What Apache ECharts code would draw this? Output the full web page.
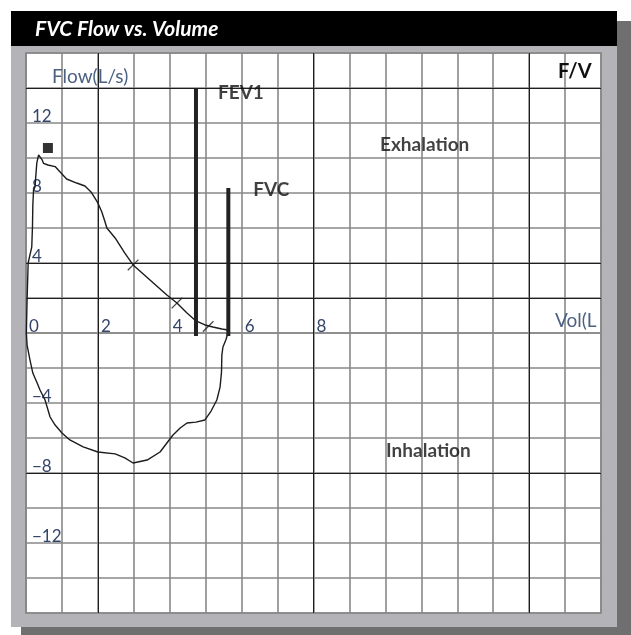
<!DOCTYPE html>
<html><head><meta charset="utf-8">
<script src="https://cdn.jsdelivr.net/npm/echarts@6/dist/echarts.min.js"></script>
<style>html,body{margin:0;padding:0;background:#fff}#c{width:631px;height:635px}</style>
</head><body><div id="c"></div>
<script>
// ---- data ----
const exhaleVol  = [0.01,0.03,0.06,0.11,0.16,0.18,0.19,0.21,0.25,0.30,0.35,0.40,0.45,0.49,0.61,0.81,0.95,1.13,1.41,1.64,1.81,2.00,2.11,2.20,2.25,2.48,2.75,2.98,3.45,3.92,4.20,4.48,4.73,4.98,5.20,5.45,5.62];
const exhaleFlow = [0,1.89,4.0,4.46,4.91,6.06,7.31,8.17,8.34,9.71,10.17,10.11,9.89,9.69,9.6,9.51,9.2,8.8,8.57,8.4,8.06,7.43,6.91,6.34,6.0,5.43,4.57,3.89,3.03,2.17,1.71,1.14,0.69,0.46,0.34,0.23,0.17];
const inhaleVol  = [5.62,5.56,5.48,5.45,5.44,5.40,5.31,5.15,4.98,4.73,4.48,4.29,4.09,3.73,3.37,2.98,2.75,2.48,2.00,1.59,1.22,1.00,0.81,0.67,0.53,0.39,0.31,0.19,0.11,0.03,0.01];
const inhaleFlow = [0,-0.4,-0.8,-1.26,-2.23,-3.09,-3.83,-4.46,-4.97,-5.09,-5.14,-5.43,-5.83,-6.8,-7.26,-7.43,-7.14,-6.91,-6.8,-6.51,-6.11,-5.71,-5.26,-4.8,-3.83,-3.26,-2.86,-2.29,-1.54,-0.69,0];
const tickVol  = [2.98, 4.20, 5.07];
const tickFlow = [3.89, 1.71, 0.37];
const pefVol = [0.61];
const pefFlow = [10.57];
const fev1Vol = 4.73;
const fev1Range = [-0.17, 14];
const fvcVol = 5.63;
const fvcRange = [-0.17, 8.29];
const xTickLabels = [0, 2, 4, 6, 8];
const yTickLabels = [12, 8, 4, -4, -8, -12];
const annotationText = ['Exhalation', 'Inhalation'];
const annotationVol  = [9.85, 10.02];
const annotationFlow = [10.77, -6.74];

// ---- chart ----
const chart = echarts.init(document.getElementById('c'));
const curve = exhaleVol.map((v, i) => [v, exhaleFlow[i]])
  .concat(inhaleVol.map((v, i) => [v, inhaleFlow[i]]));
const gridGray = '#888888';
const labelBlue = '#35456a';
const FONT = 'Lato';
const X_MIN = 0, X_MAX = 16, Y_MIN = -16, Y_MAX = 16;
const GRID = { left: 26, top: 53, width: 575, height: 560 };
// place the volume axis on flow = 0
const xAxisOffset = -GRID.height * (0 - Y_MIN) / (Y_MAX - Y_MIN);

chart.setOption({
  animation: false,
  backgroundColor: '#fff',
  graphic: [
    { type: 'rect', z: -10, shape: { x: 21, y: 21, width: 610, height: 614 }, style: { fill: '#6f6f6f' } },
    { type: 'rect', z: -9, shape: { x: 11, y: 11, width: 606, height: 616 }, style: { fill: '#b4b4b8' } },
    { type: 'rect', z: -8, shape: { x: 11, y: 11, width: 606, height: 35 }, style: { fill: '#000' } },
    { type: 'text', z: -7, x: 35, y: 29, style: { text: 'FVC Flow vs. Volume', fill: '#fff', font: 'italic bold 21px ' + FONT, align: 'left', verticalAlign: 'middle' } },
    { type: 'text', z: 50, x: 52, y: 77, style: { text: 'Flow(L/s)', fill: '#4d6282', font: '19px ' + FONT, align: 'left', verticalAlign: 'middle' } },
    { type: 'text', z: 50, x: 558, y: 72, style: { text: 'F/V', fill: '#111', font: 'bold 20px ' + FONT, align: 'left', verticalAlign: 'middle' } },
    { type: 'text', z: 50, x: 555, y: 321, style: { text: 'Vol(L', fill: '#4d6282', font: '19px ' + FONT, align: 'left', verticalAlign: 'middle' } }
  ],
  grid: Object.assign({ show: true, backgroundColor: '#fff', borderColor: gridGray, borderWidth: 1.6 }, GRID),
  xAxis: {
    type: 'value', min: X_MIN, max: X_MAX, interval: 1, position: 'bottom', offset: xAxisOffset,
    axisLine: { show: true, onZero: false, lineStyle: { color: gridGray, width: 1.6 } },
    axisTick: { show: false },
    splitLine: { show: true, lineStyle: { color: gridGray, width: 1.6 } },
    axisLabel: {
      show: true, inside: true, margin: 0, align: 'left', verticalAlign: 'bottom', lineHeight: 12,
      padding: [0, 0, 0, 3], fontFamily: FONT, fontSize: 17, color: labelBlue,
      formatter: v => xTickLabels.includes(v) ? String(v) : ''
    }
  },
  yAxis: {
    type: 'value', min: Y_MIN, max: Y_MAX, interval: 2,
    axisLine: { show: true, onZero: false, lineStyle: { color: gridGray, width: 1.6 } },
    axisTick: { show: false },
    splitLine: { show: true, lineStyle: { color: gridGray, width: 1.6 } },
    axisLabel: {
      show: true, inside: true, margin: 6, align: 'left', verticalAlign: 'bottom', lineHeight: 12,
      fontFamily: FONT, fontSize: 17, color: labelBlue,
      formatter: v => yTickLabels.includes(v) ? (v < 0 ? '\u2212' + Math.abs(v) : String(v)) : ''
    }
  },
  series: [
    {
      type: 'line', data: curve, symbol: 'none', silent: true, z: 3,
      lineStyle: { color: '#1c1c1c', width: 1.4 },
      markLine: {
        silent: true, symbol: ['none', 'none'], label: { show: false },
        lineStyle: { color: '#1e1e1e', width: 1, type: 'solid' },
        data: [{ xAxis: 2 }, { xAxis: 8 }, { xAxis: 14 }, { yAxis: 14 }, { yAxis: 4 }, { yAxis: 2 }, { yAxis: -8 }]
      }
    },
    {
      type: 'line', symbol: 'none', silent: true, z: 4,
      data: fev1Range.map(f => [fev1Vol, f]),
      lineStyle: { color: '#222', width: 4 }
    },
    {
      type: 'line', symbol: 'none', silent: true, z: 4,
      data: fvcRange.map(f => [fvcVol, f]),
      lineStyle: { color: '#222', width: 4 }
    },
    {
      type: 'scatter', silent: true, z: 5,
      data: tickVol.map((v, i) => [v, tickFlow[i]]),
      symbol: 'rect', symbolSize: [1.3, 15], symbolRotate: -45,
      itemStyle: { color: '#1c1c1c' }
    },
    {
      type: 'scatter', silent: true, z: 5,
      data: pefVol.map((v, i) => [v, pefFlow[i]]),
      symbol: 'rect', symbolSize: 10, itemStyle: { color: '#000' }
    },
    {
      type: 'scatter', silent: true, z: 6, symbolSize: 0,
      data: [
        { value: [fev1Vol, fev1Range[1]], label: { formatter: 'FEV1', distance: 22, offset: [0, 4.5] } },
        { value: [fvcVol, fvcRange[1]], label: { formatter: 'FVC', distance: 25, offset: [0, 1.5] } }
      ].concat(annotationText.map((t, i) => ({ value: [annotationVol[i], annotationFlow[i]], label: { formatter: t, distance: 0 } }))),
      label: { show: true, position: 'right', fontFamily: FONT, fontWeight: 'bold', fontSize: 19, color: '#111' }
    }
  ]
});
</script>
</body></html>
